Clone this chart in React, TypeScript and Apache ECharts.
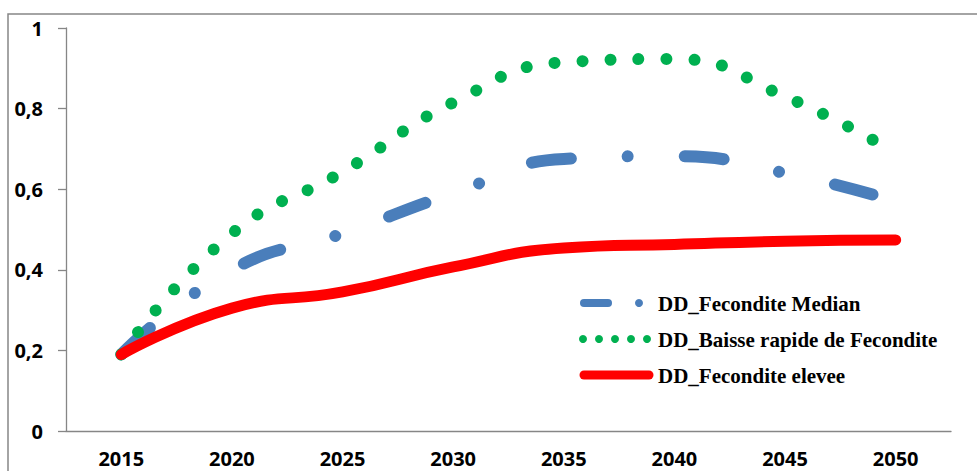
import React, { useEffect, useRef } from "react";
import * as echarts from "echarts";

const years = ["2015", "2020", "2025", "2030", "2035", "2040", "2045", "2050"];
const fecMedian = [0.19, 0.4, 0.49, 0.59, 0.675, 0.682, 0.64, 0.57];
const baisseRapide = [0.19, 0.49, 0.643, 0.815, 0.915, 0.923, 0.83, 0.69];
const fecElevee = [0.19, 0.305, 0.345, 0.407, 0.454, 0.463, 0.471, 0.474];
const seriesNames = [
  "DD_Fecondite Median",
  "DD_Baisse rapide de Fecondite",
  "DD_Fecondite elevee",
];
const yTicks = [0, 0.2, 0.4, 0.6, 0.8, 1];

const BLUE = "#4a7ebb";
const GREEN = "#00b050";
const RED = "#ff0000";
const AXIS = "#868686";
const LABEL_FONT = "'Open Sans', Lato, sans-serif";
const LEGEND_FONT = "'Liberation Serif', 'Times New Roman', serif";

export default function App() {
  const ref = useRef<HTMLDivElement>(null);
  useEffect(() => {
    if (!ref.current) return;
    const chart = echarts.init(ref.current, undefined, { renderer: "svg" });
    const legendText = (i: number, y: number) => ({
      type: "text",
      x: 658,
      y,
      style: {
        text: seriesNames[i],
        font: `bold 21px ${LEGEND_FONT}`,
        fill: "#000",
        textVerticalAlign: "middle",
        verticalAlign: "middle",
      },
    });
    const greenDots = [583, 599, 615, 631, 647].map((x) => ({
      type: "circle",
      shape: { cx: x, cy: 339, r: 4 },
      style: { fill: GREEN },
    }));
    chart.setOption({
      animation: false,
      grid: { left: 66, right: 26, top: 28, bottom: 40 },
      xAxis: {
        type: "category",
        data: years,
        boundaryGap: true,
        axisLine: { lineStyle: { color: AXIS, width: 1.3 } },
        axisTick: { length: 7, lineStyle: { color: AXIS, width: 1.3 } },
        axisLabel: {
          interval: 0,
          margin: 17,
          lineHeight: 20,
          color: "#000",
          fontFamily: LABEL_FONT,
          fontWeight: "bold",
          fontSize: 20,
        },
        splitLine: { show: false },
      },
      yAxis: {
        type: "value",
        min: 0,
        max: 1,
        interval: 0.2,
        axisLine: { show: true, lineStyle: { color: AXIS, width: 1.3 } },
        axisTick: { show: true, length: 8, lineStyle: { color: AXIS, width: 1.3 } },
        axisLabel: {
          margin: 23,
          color: "#000",
          fontFamily: LABEL_FONT,
          fontWeight: "bold",
          fontSize: 20,
          formatter: (v: number) => {
            const t = yTicks.find((k) => Math.abs(k - v) < 1e-9);
            return String(Math.round((t ?? v) * 10) / 10).replace(".", ",");
          },
        },
        splitLine: { show: false },
      },
      series: [
        {
          name: seriesNames[0],
          type: "line",
          data: fecMedian,
          smooth: true,
          symbol: "none",
          lineStyle: { color: BLUE, width: 12, type: [39, 57, 0.01, 57], cap: "round" },
          z: 2,
        },
        {
          name: seriesNames[1],
          type: "line",
          data: baisseRapide,
          smooth: true,
          symbol: "none",
          lineStyle: { color: GREEN, width: 12, type: [0.01, 28], cap: "round" },
          z: 3,
        },
        {
          name: seriesNames[2],
          type: "line",
          data: fecElevee,
          smooth: true,
          symbol: "none",
          lineStyle: { color: RED, width: 11, cap: "round" },
          z: 4,
        },
      ],
      graphic: [
        {
          type: "rect",
          shape: { x: 8, y: 14, width: 1200, height: 800 },
          style: { fill: "none", stroke: AXIS, lineWidth: 1.5 },
          silent: true,
        },
        {
          type: "line",
          shape: { x1: 584, y1: 303, x2: 608, y2: 303 },
          style: { stroke: BLUE, lineWidth: 8, lineCap: "round" },
        },
        {
          type: "circle",
          shape: { cx: 639, cy: 303, r: 4 },
          style: { fill: BLUE },
        },
        ...greenDots,
        {
          type: "line",
          shape: { x1: 584, y1: 375, x2: 649, y2: 375 },
          style: { stroke: RED, lineWidth: 9, lineCap: "round" },
        },
        legendText(0, 304),
        legendText(1, 340),
        legendText(2, 376),
      ],
    });
    return () => chart.dispose();
  }, []);
  return (
    <div
      ref={ref}
      style={{ position: "fixed", left: 0, top: 0, width: 977, height: 471, background: "#fff" }}
    />
  );
}
